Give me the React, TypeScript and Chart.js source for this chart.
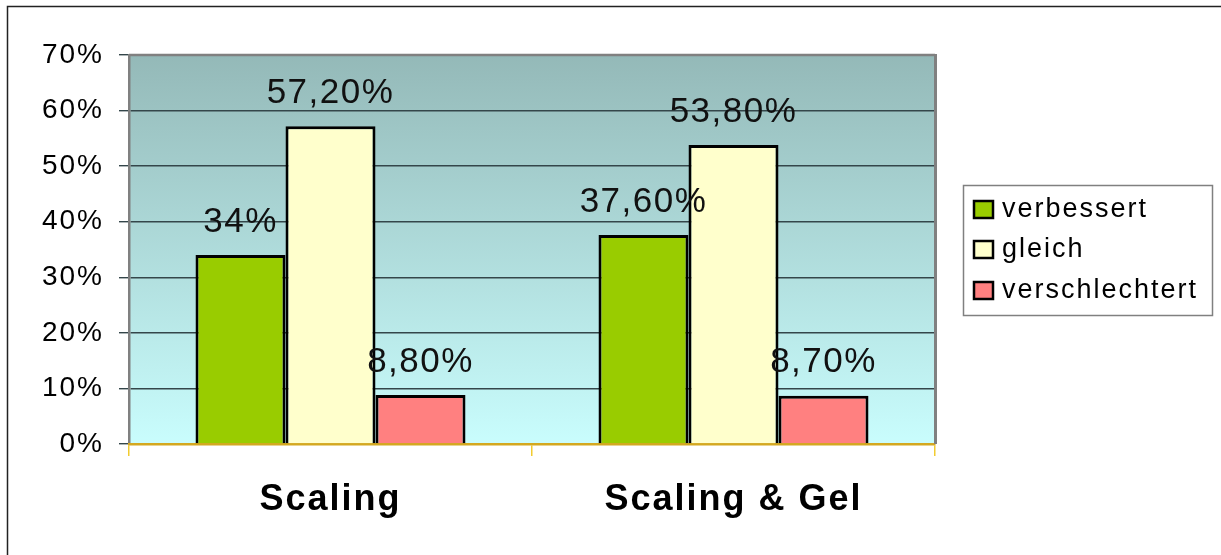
import React, { useEffect, useRef } from "react";
import { Chart, registerables } from "chart.js";

Chart.register(...registerables);

const categories = ["Scaling", "Scaling & Gel"];
const seriesNames = ["verbessert", "gleich", "verschlechtert"];
const verbessert = [34, 37.6];
const gleich = [57.2, 53.8];
const verschlechtert = [8.8, 8.7];
const valueLabels = [
  ["34%", "37,60%"],
  ["57,20%", "53,80%"],
  ["8,80%", "8,70%"],
];
const seriesColors = ["#99CC00", "#FFFFCC", "#FF8080"];
const yTicks = [0, 10, 20, 30, 40, 50, 60, 70];

const FONT = "'Liberation Sans', Arial, Helvetica, sans-serif";

export default function App() {
  const ref = useRef<HTMLCanvasElement | null>(null);

  useEffect(() => {
    document.body.style.margin = "0";
    const canvas = ref.current;
    if (!canvas) return;

    const bgPlugin = {
      id: "bgPlugin",
      beforeDraw(chart: any) {
        const { ctx, chartArea } = chart;
        ctx.save();
        ctx.fillStyle = "#ffffff";
        ctx.fillRect(0, 0, chart.width, chart.height);
        // outer frame
        ctx.strokeStyle = "#222222";
        ctx.lineWidth = 1.5;
        ctx.beginPath();
        ctx.moveTo(7.5, chart.height + 2);
        ctx.lineTo(7.5, 6.5);
        ctx.lineTo(chart.width + 2, 6.5);
        ctx.stroke();
        // gradient plot area
        const g = ctx.createLinearGradient(0, chartArea.top, 0, chartArea.bottom);
        g.addColorStop(0, "#94B9B8");
        g.addColorStop(1, "#C9FDFD");
        ctx.fillStyle = g;
        ctx.fillRect(chartArea.left, chartArea.top, chartArea.right - chartArea.left, chartArea.bottom - chartArea.top);
        ctx.restore();
        (ctx as any).letterSpacing = "2px";
      },
      beforeDatasetsDraw(chart: any) {
        const { ctx, chartArea } = chart;
        ctx.save();
        ctx.strokeStyle = "#808080";
        ctx.lineWidth = 2.5;
        ctx.beginPath();
        ctx.moveTo(chartArea.left, chartArea.top);
        ctx.lineTo(chartArea.right, chartArea.top);
        ctx.stroke();
        ctx.lineWidth = 3;
        ctx.beginPath();
        ctx.moveTo(chartArea.right + 0.5, chartArea.top - 1);
        ctx.lineTo(chartArea.right + 0.5, chartArea.bottom);
        ctx.stroke();
        ctx.restore();
      },
      afterDatasetsDraw(chart: any) {
        const { ctx } = chart;
        ctx.save();
        (ctx as any).letterSpacing = "1.5px";
        ctx.font = `35px ${FONT}`;
        ctx.fillStyle = "#111111";
        ctx.textAlign = "center";
        ctx.textBaseline = "middle";
        chart.data.datasets.forEach((ds: any, di: number) => {
          const meta = chart.getDatasetMeta(di);
          meta.data.forEach((el: any, i: number) => {
            ctx.fillText(valueLabels[di][i], el.x, el.y - 33);
          });
        });
        ctx.restore();
      },
      afterDraw(chart: any) {
        const { ctx } = chart;
        ctx.save();
        (ctx as any).letterSpacing = "0px";
        // legend
        ctx.fillStyle = "#ffffff";
        ctx.fillRect(963.5, 185.5, 249, 130);
        ctx.strokeStyle = "#808080";
        ctx.lineWidth = 1.5;
        ctx.strokeRect(963.5, 185.5, 249, 130);
        const rows = [210, 250, 291];
        chart.data.datasets.forEach((ds: any, i: number) => {
          const cy = rows[i];
          ctx.fillStyle = ds.backgroundColor;
          ctx.fillRect(974, cy - 9, 19, 17);
          ctx.strokeStyle = "#000000";
          ctx.lineWidth = 2.5;
          ctx.strokeRect(974, cy - 9, 19, 17);
          ctx.fillStyle = "#000000";
          (ctx as any).letterSpacing = "2px";
          ctx.font = `27px ${FONT}`;
          ctx.textAlign = "left";
          ctx.textBaseline = "middle";
          ctx.fillText(ds.label, 1002, cy);
          (ctx as any).letterSpacing = "0px";
        });
        ctx.restore();
        (ctx as any).letterSpacing = "0px";
      },
    };

    const chart = new Chart(canvas, {
      type: "bar",
      data: {
        labels: categories,
        datasets: [verbessert, gleich, verschlechtert].map((d, i) => ({
          label: seriesNames[i],
          data: d,
          backgroundColor: seriesColors[i],
          borderColor: "#000000",
          borderWidth: 3,
          categoryPercentage: 0.67,
          barPercentage: 1,
        })),
      },
      options: {
        animation: false,
        responsive: false,
        maintainAspectRatio: false,
        layout: { padding: { top: 55, right: 286, left: 0, bottom: 0 } },
        plugins: {
          legend: { display: false },
          tooltip: { enabled: false },
          title: { display: false },
        },
        scales: {
          y: {
            min: 0,
            max: 70,
            afterFit: (s: any) => {
              s.width = 129;
            },
            afterBuildTicks: (s: any) => {
              s.ticks = yTicks.map((v) => ({ value: v }));
            },
            ticks: {
              callback: (v: any) => `${v}%`,
              color: "#000000",
              font: { family: FONT, size: 28 },
              padding: 15,
            },
            grid: {
              color: (c: any) => (c.tick && c.tick.value === 0 ? "rgba(0,0,0,0)" : "#34464A"),
              tickColor: "#34464A",
              lineWidth: 1.4,
              tickLength: 10,
            },
            border: { display: true, color: "#808080", width: 2.5 },
          },
          x: {
            afterFit: (s: any) => {
              s.height = 111;
            },
            ticks: {
              color: "#000000",
              font: { family: FONT, size: 36, weight: "bold" },
              padding: 22,
              maxRotation: 0,
              autoSkip: false,
            },
            grid: {
              offset: true,
              drawOnChartArea: false,
              color: "#F2CC30",
              tickColor: "#F2CC30",
              lineWidth: 1.5,
              tickLength: 12,
            },
            border: { display: true, color: "#D4A820", width: 2.5 },
          },
        },
      },
      plugins: [bgPlugin],
    } as any);

    return () => {
      chart.destroy();
    };
  }, []);

  return (
    <canvas
      ref={ref}
      width={1221}
      height={555}
      style={{ display: "block", width: "1221px", height: "555px" }}
    />
  );
}
